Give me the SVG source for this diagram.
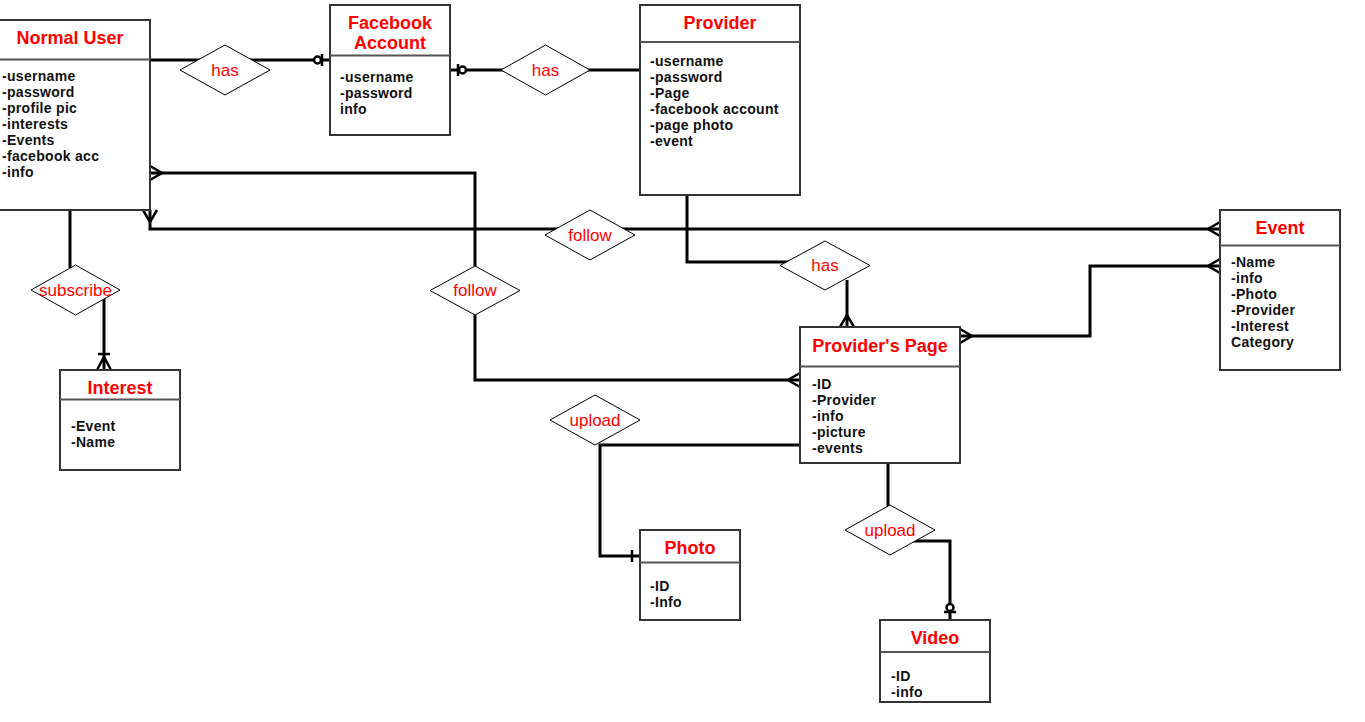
<svg xmlns="http://www.w3.org/2000/svg" width="1365" height="722" viewBox="0 0 1365 722">
  <style>
    .box { fill: #fff; stroke: #333; stroke-width: 2; }
    .div { stroke: #555; stroke-width: 2; }
    .title { font-family: "Liberation Sans", Arial, sans-serif; font-size: 18px; font-weight: bold; fill: #ff0000; text-anchor: middle; }
    .attr { font-family: "Liberation Sans", Arial, sans-serif; font-size: 14px; font-weight: bold; letter-spacing: 0.3px; fill: #111; }
    .rel { fill: #fff; stroke: #000; stroke-width: 1; }
    .rtext { font-family: "Liberation Sans", Arial, sans-serif; font-size: 17px; fill: #ff0000; text-anchor: middle; }
    .edge { fill: none; stroke: #000; stroke-width: 3; }
    .mk { fill: none; stroke: #000; stroke-width: 2.5; }
  </style>
  <defs>
    <!-- crow's foot: toes on the entity boundary -->
    <marker id="many" markerUnits="userSpaceOnUse" viewBox="-14 -9 16 18" refX="0" refY="0" markerWidth="16" markerHeight="18" orient="auto-start-reverse" overflow="visible">
      <path class="mk" d="M0,-7 L-12,0 L0,7"/>
    </marker>
    <!-- zero or one: bar next to entity, circle behind it -->
    <marker id="zeroOne" markerUnits="userSpaceOnUse" viewBox="-18 -9 20 18" refX="0" refY="0" markerWidth="20" markerHeight="18" orient="auto-start-reverse" overflow="visible">
      <path class="mk" d="M-8,-6 L-8,6"/>
      <circle cx="-12.5" cy="0" r="3.5" fill="#fff" stroke="#000" stroke-width="2.5"/>
    </marker>
    <!-- exactly one -->
    <marker id="one" markerUnits="userSpaceOnUse" viewBox="-12 -9 14 18" refX="0" refY="0" markerWidth="14" markerHeight="18" orient="auto-start-reverse" overflow="visible">
      <path class="mk" d="M-8,-6 L-8,6"/>
    </marker>
    <!-- one or many -->
    <marker id="oneMany" markerUnits="userSpaceOnUse" viewBox="-20 -9 22 18" refX="0" refY="0" markerWidth="22" markerHeight="18" orient="auto-start-reverse" overflow="visible">
      <path class="mk" d="M0,-7 L-13,0 L0,7"/>
      <path class="mk" d="M-16,-6 L-16,6"/>
    </marker>
  </defs>

  <rect width="1365" height="722" fill="#fff"/>

  <g id="connectors">
    <path class="edge" d="M150,60 L330,60" marker-end="url(#zeroOne)"/>
    <path class="edge" d="M450,70 L640,70" marker-start="url(#zeroOne)"/>
    <path class="edge" d="M150,210 L150,229 L1220,229" marker-start="url(#many)" marker-end="url(#many)"/>
    <path class="edge" d="M150,173 L475,173 L475,380 L800,380" marker-start="url(#many)" marker-end="url(#many)"/>
    <path class="edge" d="M687,195 L687,262 L800,262"/>
    <path class="edge" d="M847,280 L847,327" marker-end="url(#many)"/>
    <path class="edge" d="M960,336 L1090,336 L1090,266 L1220,266" marker-start="url(#many)" marker-end="url(#many)"/>
    <path class="edge" d="M70,210 L70,268"/>
    <path class="edge" d="M104,296 L104,370" marker-end="url(#oneMany)"/>
    <path class="edge" d="M800,445 L600,445 L600,556 L640,556" marker-end="url(#one)"/>
    <path class="edge" d="M888,463 L888,510"/>
    <path class="edge" d="M912,541 L950,541 L950,620" marker-end="url(#zeroOne)"/>
  </g>

  <g id="rel-has-account">
    <polygon class="rel" points="180,70 225,45 270,70 225,95"/>
    <text class="rtext" x="225" y="76">has</text>
  </g>
  <g id="rel-has-provider">
    <polygon class="rel" points="501,70 545.5,45 590,70 545.5,95"/>
    <text class="rtext" x="545.5" y="76">has</text>
  </g>
  <g id="rel-follow-event">
    <polygon class="rel" points="545,235 590,210 635,235 590,260"/>
    <text class="rtext" x="590" y="241">follow</text>
  </g>
  <g id="rel-follow-page">
    <polygon class="rel" points="430,290.5 475,266 520,290.5 475,315"/>
    <text class="rtext" x="475" y="296">follow</text>
  </g>
  <g id="rel-has-page">
    <polygon class="rel" points="780,265.5 825,241 870,265.5 825,290"/>
    <text class="rtext" x="825" y="271">has</text>
  </g>
  <g id="rel-subscribe">
    <polygon class="rel" points="31,290 75.5,265 120,290 75.5,315"/>
    <text class="rtext" x="75.5" y="296">subscribe</text>
  </g>
  <g id="rel-upload-photo">
    <polygon class="rel" points="550,420 595,395 640,420 595,445"/>
    <text class="rtext" x="595" y="426">upload</text>
  </g>
  <g id="rel-upload-video">
    <polygon class="rel" points="845,530 890,505 935,530 890,555"/>
    <text class="rtext" x="890" y="536">upload</text>
  </g>

  <g id="normal-user">
    <rect class="box" x="-10" y="20" width="160" height="190"/>
    <line class="div" x1="-10" y1="59.5" x2="150" y2="59.5"/>
    <text class="title" x="70" y="44">Normal User</text>
    <text class="attr" x="2" y="81">-username</text>
    <text class="attr" x="2" y="97">-password</text>
    <text class="attr" x="2" y="113">-profile pic</text>
    <text class="attr" x="2" y="129">-interests</text>
    <text class="attr" x="2" y="145">-Events</text>
    <text class="attr" x="2" y="161">-facebook acc</text>
    <text class="attr" x="2" y="177">-info</text>
  </g>

  <g id="facebook-account">
    <rect class="box" x="330" y="5" width="120" height="130"/>
    <line class="div" x1="330" y1="55.5" x2="450" y2="55.5"/>
    <text class="title" x="390" y="29">Facebook</text>
    <text class="title" x="390" y="49">Account</text>
    <text class="attr" x="340" y="82">-username</text>
    <text class="attr" x="340" y="98">-password</text>
    <text class="attr" x="340" y="114">info</text>
  </g>

  <g id="provider">
    <rect class="box" x="640" y="5" width="160" height="190"/>
    <line class="div" x1="640" y1="42" x2="800" y2="42"/>
    <text class="title" x="720" y="29">Provider</text>
    <text class="attr" x="650" y="66">-username</text>
    <text class="attr" x="650" y="82">-password</text>
    <text class="attr" x="650" y="98">-Page</text>
    <text class="attr" x="650" y="114">-facebook account</text>
    <text class="attr" x="650" y="130">-page photo</text>
    <text class="attr" x="650" y="146">-event</text>
  </g>

  <g id="event">
    <rect class="box" x="1220" y="210" width="120" height="160"/>
    <line class="div" x1="1220" y1="245.5" x2="1340" y2="245.5"/>
    <text class="title" x="1280" y="234">Event</text>
    <text class="attr" x="1231" y="267">-Name</text>
    <text class="attr" x="1231" y="283">-info</text>
    <text class="attr" x="1231" y="299">-Photo</text>
    <text class="attr" x="1231" y="315">-Provider</text>
    <text class="attr" x="1231" y="331">-Interest</text>
    <text class="attr" x="1231" y="347">Category</text>
  </g>

  <g id="providers-page">
    <rect class="box" x="800" y="327" width="160" height="136"/>
    <line class="div" x1="800" y1="366.5" x2="960" y2="366.5"/>
    <text class="title" x="880" y="352">Provider's Page</text>
    <text class="attr" x="812" y="389">-ID</text>
    <text class="attr" x="812" y="405">-Provider</text>
    <text class="attr" x="812" y="421">-info</text>
    <text class="attr" x="812" y="437">-picture</text>
    <text class="attr" x="812" y="453">-events</text>
  </g>

  <g id="interest">
    <rect class="box" x="60" y="370" width="120" height="100"/>
    <line class="div" x1="60" y1="399.5" x2="180" y2="399.5"/>
    <text class="title" x="120" y="394">Interest</text>
    <text class="attr" x="71" y="431">-Event</text>
    <text class="attr" x="71" y="447">-Name</text>
  </g>

  <g id="photo">
    <rect class="box" x="640" y="530" width="100" height="90"/>
    <line class="div" x1="640" y1="562.5" x2="740" y2="562.5"/>
    <text class="title" x="690" y="554">Photo</text>
    <text class="attr" x="650" y="591">-ID</text>
    <text class="attr" x="650" y="607">-Info</text>
  </g>

  <g id="video">
    <rect class="box" x="880" y="620" width="110" height="82"/>
    <line class="div" x1="880" y1="652" x2="990" y2="652"/>
    <text class="title" x="935" y="644">Video</text>
    <text class="attr" x="891" y="681">-ID</text>
    <text class="attr" x="891" y="697">-info</text>
  </g>
</svg>
